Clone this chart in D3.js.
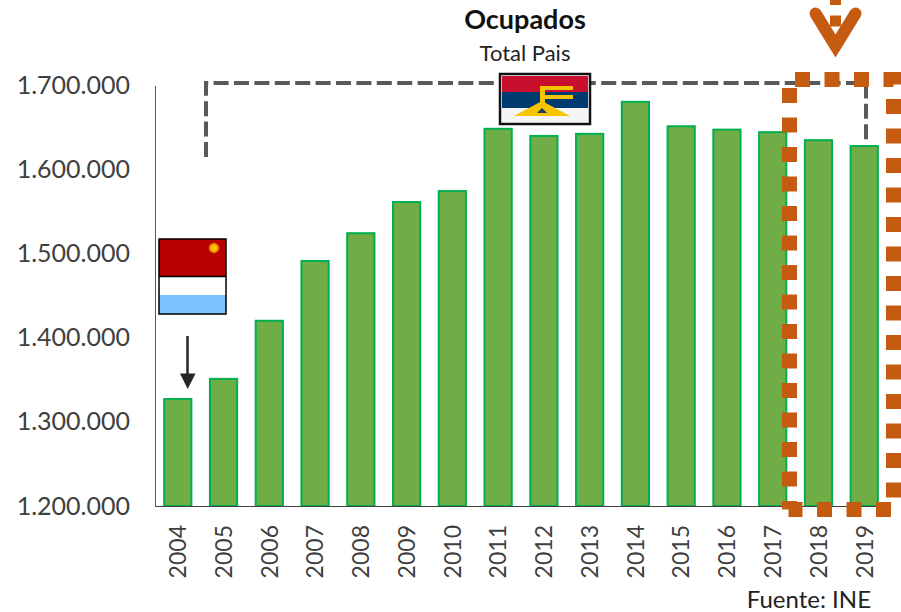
<!DOCTYPE html>
<html>
<head>
<meta charset="utf-8">
<script src="https://d3js.org/d3.v7.min.js"></script>
<style>
  html, body { margin: 0; padding: 0; background: #fff; }
  svg { display: block; }
  text { font-family: Lato, "Open Sans", sans-serif; }
  .axis path, .axis line { shape-rendering: crispEdges; }
</style>
</head>
<body>
<svg width="901" height="612"></svg>
<script>
var years = ["2004", "2005", "2006", "2007", "2008", "2009", "2010", "2011",
             "2012", "2013", "2014", "2015", "2016", "2017", "2018", "2019"];
var ocupados = [1327000, 1351000, 1420000, 1491000, 1524000, 1561000, 1574000, 1648000,
                1639500, 1642000, 1680000, 1651000, 1647000, 1644000, 1634500, 1627500];
var yTicks = [1200000, 1300000, 1400000, 1500000, 1600000, 1700000];

var svg = d3.select("svg");

var chartLeft = 155, chartRight = 887, chartTop = 85, chartBottom = 506;
var barColor = "#70AD47", barStroke = "#00B050";
var orange = "#C55A11", dashGray = "#595959", textColor = "#404040";

var x = d3.scaleBand().domain(years).range([chartLeft, chartRight]).paddingInner(0.405).paddingOuter(0.2);
var y = d3.scaleLinear().domain([1200000, 1700000]).range([chartBottom, chartTop]);

var locale = d3.formatLocale({ decimal: ",", thousands: ".", grouping: [3], currency: ["", ""] });

// Bars
svg.append("g").selectAll("rect")
    .data(ocupados)
    .enter().append("rect")
    .attr("x", function(d, i) { return x(years[i]); })
    .attr("y", function(d) { return y(d); })
    .attr("width", x.bandwidth())
    .attr("height", function(d) { return chartBottom - y(d); })
    .attr("fill", barColor)
    .attr("stroke", barStroke)
    .attr("stroke-width", 2);

// Axes
var yAxis = svg.append("g")
    .attr("class", "axis")
    .attr("transform", "translate(" + chartLeft + ",0)")
    .call(d3.axisLeft(y).tickValues(yTicks).tickFormat(locale.format(",d")).tickSize(0).tickPadding(25));
yAxis.select(".domain").attr("stroke", "#595959").attr("stroke-width", 1.5);
yAxis.selectAll("text").attr("fill", textColor).style("font-size", "25px");

var xAxis = svg.append("g")
    .attr("class", "axis")
    .attr("transform", "translate(0," + chartBottom + ")")
    .call(d3.axisBottom(x).tickSize(0));
xAxis.select(".domain").attr("stroke", "#404040").attr("stroke-width", 1.5);
xAxis.selectAll("text")
    .attr("fill", textColor)
    .style("font-size", "23px")
    .attr("text-anchor", "end")
    .attr("transform", "rotate(-90)")
    .attr("x", -19)
    .attr("y", 0)
    .attr("dy", "0.36em");

// Titles
svg.append("text").attr("x", 525).attr("y", 29).attr("text-anchor", "middle")
    .attr("fill", "#111").style("font-size", "27px").style("font-weight", "bold").text("Ocupados");
svg.append("text").attr("x", 525).attr("y", 61).attr("text-anchor", "middle")
    .attr("fill", "#222").style("font-size", "22px").text("Total Pais");
svg.append("text").attr("x", 871).attr("y", 608).attr("text-anchor", "end")
    .attr("fill", "#222").style("font-size", "24px").text("Fuente: INE");

// Dashed bracket between the two flags
svg.append("path")
    .attr("d", "M206,157V83H866V142")
    .attr("fill", "none")
    .attr("stroke", dashGray)
    .attr("stroke-width", 4)
    .attr("stroke-dasharray", "15 5.4");

// Dotted highlight box
svg.append("path")
    .attr("d", "M795,79.5H893.5V509.5H788.5")
    .attr("fill", "none")
    .attr("stroke", orange)
    .attr("stroke-width", 15)
    .attr("stroke-dasharray", "15 14.5");
svg.append("path")
    .attr("d", "M789.5,88V509.5")
    .attr("fill", "none")
    .attr("stroke", orange)
    .attr("stroke-width", 15)
    .attr("stroke-dasharray", "15 14.5");

// Chevron arrow at the top of the box
svg.append("path")
    .attr("d", "M815.5,13.5L835.5,46L855.5,13.5")
    .attr("fill", "none")
    .attr("stroke", orange)
    .attr("stroke-width", 12)
    .attr("stroke-linecap", "round")
    .attr("stroke-linejoin", "miter");
svg.append("rect").attr("x", 830).attr("y", 15.5).attr("width", 11).attr("height", 11).attr("fill", orange);
svg.append("rect").attr("x", 830).attr("y", -6).attr("width", 11).attr("height", 11).attr("fill", orange);

// Left flag
var defs = svg.append("defs");
var sun = defs.append("radialGradient").attr("id", "sun");
sun.append("stop").attr("offset", "0%").attr("stop-color", "#FFC800");
sun.append("stop").attr("offset", "60%").attr("stop-color", "#F7A800");
sun.append("stop").attr("offset", "100%").attr("stop-color", "#B80000");

var flag1 = svg.append("g").attr("transform", "translate(159,239)");
flag1.append("rect").attr("width", 67).attr("height", 37).attr("fill", "#B80000");
flag1.append("rect").attr("y", 37).attr("width", 67).attr("height", 19).attr("fill", "#fff");
flag1.append("rect").attr("y", 56).attr("width", 67).attr("height", 19).attr("fill", "#7BC4FF");
flag1.append("circle").attr("cx", 55).attr("cy", 9).attr("r", 6).attr("fill", "url(#sun)");
flag1.append("line").attr("x1", 0).attr("x2", 67).attr("y1", 37.5).attr("y2", 37.5).attr("stroke", "#000").attr("stroke-width", 1.5);
flag1.append("rect").attr("width", 67).attr("height", 75).attr("fill", "none").attr("stroke", "#000").attr("stroke-width", 1.5);

// Arrow under the left flag
svg.append("line").attr("x1", 187.5).attr("x2", 187.5).attr("y1", 336).attr("y2", 376)
    .attr("stroke", "#262626").attr("stroke-width", 2.5);
svg.append("path").attr("d", "M180,373.5H195.5L187.7,389Z").attr("fill", "#262626");

// Top flag
var flag2 = svg.append("g").attr("transform", "translate(500,74)");
flag2.append("rect").attr("width", 90).attr("height", 50).attr("fill", "#fff").attr("stroke", "#111").attr("stroke-width", 2.5);
flag2.append("rect").attr("x", 2).attr("y", 2).attr("width", 86).attr("height", 16).attr("fill", "#C8102E");
flag2.append("rect").attr("x", 2).attr("y", 18).attr("width", 86).attr("height", 16).attr("fill", "#003B6F");
flag2.append("rect").attr("x", 2).attr("y", 34).attr("width", 86).attr("height", 14).attr("fill", "#F5F5F8");
// yellow emblem
var emblem = "#F6C500";
flag2.append("rect").attr("x", 40).attr("y", 12).attr("width", 33).attr("height", 4).attr("fill", emblem);
flag2.append("rect").attr("x", 40).attr("y", 21).attr("width", 33).attr("height", 4).attr("fill", emblem);
flag2.append("rect").attr("x", 40).attr("y", 12).attr("width", 5).attr("height", 18).attr("fill", emblem);
flag2.append("path").attr("d", "M42,27L70,42H14Z").attr("fill", emblem);
flag2.append("path").attr("d", "M42,34L47,39H37Z").attr("fill", "#1F3A6E");
</script>
</body>
</html>
